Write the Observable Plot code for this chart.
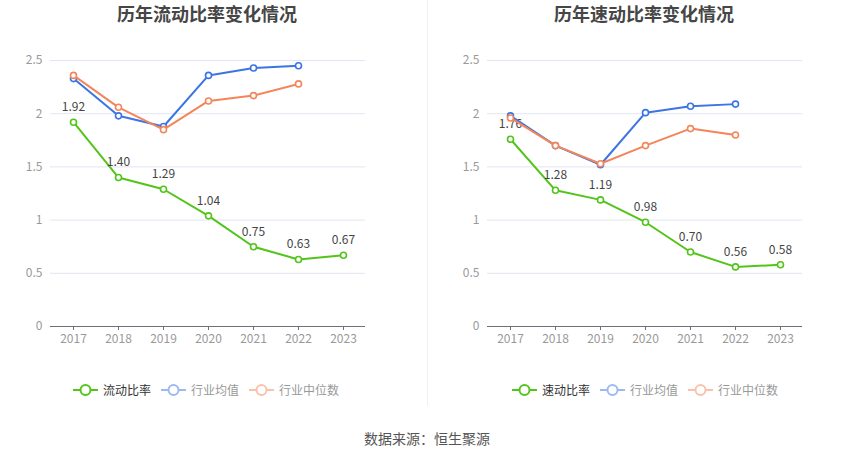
<!DOCTYPE html>
<html>
<head>
<meta charset="utf-8">
<script src="https://cdn.jsdelivr.net/npm/d3@7"></script>
<script src="https://cdn.jsdelivr.net/npm/@observablehq/plot@0.6"></script>
<style>
  html, body { margin: 0; padding: 0; background: #fff; }
  #root { position: relative; width: 850px; height: 459px; font-family: "Noto Sans CJK SC", "Noto Sans", sans-serif; overflow: hidden; }
  .panel { position: absolute; top: 0; }
  .title { position: absolute; top: 0px; font-size: 18px; font-weight: bold; color: #464646; white-space: nowrap; transform: translateX(-50%); }
  .legend { position: absolute; top: 381px; display: flex; align-items: center; font-size: 12px; white-space: nowrap; }
  .legend .item { display: flex; align-items: center; margin-right: 10px; }
  .legend svg { margin-right: 5px; }
  .divider { position: absolute; left: 427px; top: 0; width: 1px; height: 406px; background: #f0f0f0; }
  .source { position: absolute; top: 428px; left: 427px; transform: translateX(-50%); font-size: 14px; color: #555; white-space: nowrap; }
</style>
</head>
<body>
<div id="root"></div>
<script>
// ---- data ----
const years = ["2017", "2018", "2019", "2020", "2021", "2022", "2023"];
const industryYears = ["2017", "2018", "2019", "2020", "2021", "2022"];
const yTicks = [0, 0.5, 1, 1.5, 2, 2.5];

const currentRatio = [1.92, 1.40, 1.29, 1.04, 0.75, 0.63, 0.67];
const currentAvg = [2.33, 1.98, 1.88, 2.36, 2.43, 2.45];
const currentMedian = [2.36, 2.06, 1.85, 2.12, 2.17, 2.28];

const quickRatio = [1.76, 1.28, 1.19, 0.98, 0.70, 0.56, 0.58];
const quickAvg = [1.98, 1.70, 1.52, 2.01, 2.07, 2.09];
const quickMedian = [1.96, 1.70, 1.53, 1.70, 1.86, 1.80];

const leftTitle = "历年流动比率变化情况";
const rightTitle = "历年速动比率变化情况";
const leftNames = ["流动比率", "行业均值", "行业中位数"];
const rightNames = ["速动比率", "行业均值", "行业中位数"];
const sourceText = "数据来源：恒生聚源";

const colors = ["#52c41a", "#3b74e3", "#f4855a"];
const legendIconColors = ["#52c41a", "#9db9f1", "#f9c2ac"];
const legendTextColors = ["#333", "#999", "#999"];

const root = document.getElementById("root");

function makeChart(main, avg, med, opts) {
  const mainData = years.map((y, i) => ({ year: y, v: main[i] }));
  const avgData = industryYears.map((y, i) => ({ year: y, v: avg[i] }));
  const medData = industryYears.map((y, i) => ({ year: y, v: med[i] }));
  return Plot.plot({
    width: 425,
    height: 350,
    marginTop: 60,
    marginBottom: 24,
    marginLeft: opts.ml,
    marginRight: opts.mr,
    style: { fontFamily: "'Noto Sans CJK SC', 'Noto Sans', sans-serif", fontSize: "12px", background: "transparent" },
    x: { type: "point", domain: years, padding: 0.5 },
    y: { domain: [0, 2.5] },
    marks: [
      Plot.gridY(yTicks, { stroke: "#e0e6f1", strokeOpacity: 1 }),
      Plot.axisY(yTicks, { tickSize: 0, tickPadding: 8, fill: "#999", fontSize: 12, label: null, tickFormat: d => String(d) }),
      Plot.ruleY([0], { stroke: "#6e7079", strokeWidth: 1 }),
      Plot.axisX({ tickSize: 4, stroke: "#6e7079", fill: "#999", fontSize: 12, tickPadding: 4, label: null }),
      Plot.line(mainData, { x: "year", y: "v", stroke: colors[0], strokeWidth: 2 }),
      Plot.dot(mainData, { x: "year", y: "v", r: 3, stroke: colors[0], strokeWidth: 1.6, fill: "#fff" }),
      Plot.text(mainData, { x: "year", y: "v", text: d => d.v.toFixed(2), dy: -15, fill: "#444", fontSize: 12 }),
      Plot.line(avgData, { x: "year", y: "v", stroke: colors[1], strokeWidth: 2 }),
      Plot.dot(avgData, { x: "year", y: "v", r: 3, stroke: colors[1], strokeWidth: 1.6, fill: "#fff" }),
      Plot.line(medData, { x: "year", y: "v", stroke: colors[2], strokeWidth: 2 }),
      Plot.dot(medData, { x: "year", y: "v", r: 3, stroke: colors[2], strokeWidth: 1.6, fill: "#fff" })
    ]
  });
}

function addPanel(left, chart, title, titleX) {
  const p = document.createElement("div");
  p.className = "panel";
  p.style.left = left + "px";
  p.appendChild(chart);
  root.appendChild(p);
  const t = document.createElement("div");
  t.className = "title";
  t.style.left = titleX + "px";
  t.textContent = title;
  root.appendChild(t);
}

function addLegend(left, names) {
  const lg = document.createElement("div");
  lg.className = "legend";
  lg.style.left = left + "px";
  names.forEach((n, i) => {
    const item = document.createElement("div");
    item.className = "item";
    item.innerHTML = `<svg width="25" height="14"><line x1="0" y1="7" x2="25" y2="7" stroke="${legendIconColors[i]}" stroke-width="2"/><circle cx="12.5" cy="7" r="5" fill="#fff" stroke="${legendIconColors[i]}" stroke-width="2"/></svg><span style="color:${legendTextColors[i]}">${n}</span>`;
    lg.appendChild(item);
  });
  root.appendChild(lg);
}

addPanel(0, makeChart(currentRatio, currentAvg, currentMedian, { ml: 50, mr: 60 }), leftTitle, 207);
addPanel(425, makeChart(quickRatio, quickAvg, quickMedian, { ml: 62, mr: 48 }), rightTitle, 644);

const div = document.createElement("div");
div.className = "divider";
root.appendChild(div);

addLegend(73, leftNames);
addLegend(512, rightNames);

const src = document.createElement("div");
src.className = "source";
src.textContent = sourceText;
root.appendChild(src);
</script>
</body>
</html>
